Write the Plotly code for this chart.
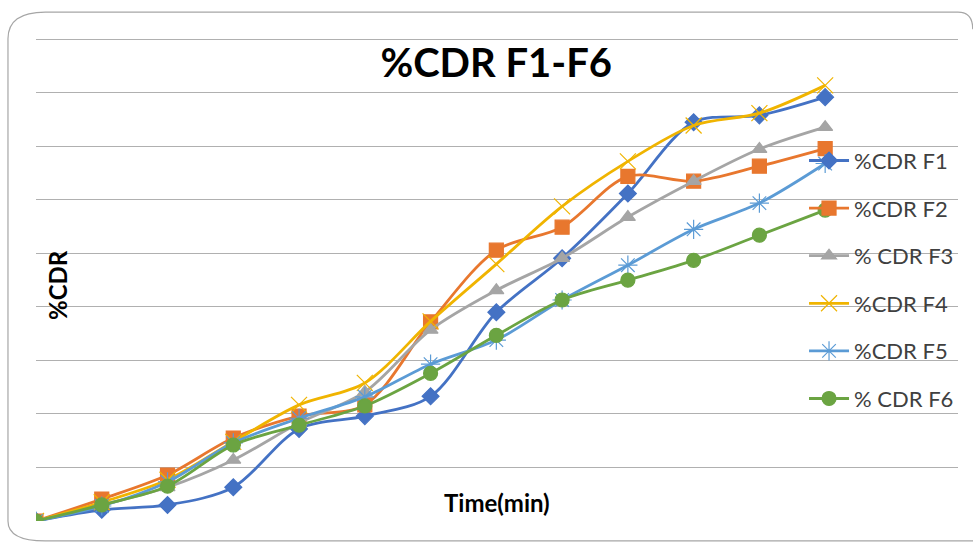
import plotly.graph_objects as go

time_points = list(range(13))
series_names = ["%CDR F1", "%CDR F2", "% CDR F3", "%CDR F4", "%CDR F5", "% CDR F6"]
f1 = [0, 2.1, 3.0, 6.3, 17.2, 19.6, 23.3, 39.0, 49.1, 61.2, 74.5, 75.8, 79.2]
f2 = [0, 4.1, 8.6, 15.5, 19.6, 21.7, 37.2, 50.6, 54.9, 64.4, 63.5, 66.3, 69.6]
f3 = [0, 3.0, 6.3, 11.4, 18.3, 24.1, 35.7, 43.1, 49.1, 56.8, 63.5, 69.5, 73.6]
f4 = [0, 3.5, 7.7, 14.8, 21.7, 25.8, 37.3, 48.0, 58.8, 67.2, 73.9, 76.2, 81.4]
f5 = [0, 2.8, 7.3, 14.6, 19.2, 23.2, 29.3, 33.8, 41.3, 47.8, 54.5, 59.4, 66.8]
f6 = [0, 3.0, 6.5, 14.2, 17.9, 21.5, 27.6, 34.7, 41.3, 45.0, 48.7, 53.4, 58.1]

colors = ["#4472C4", "#E8772E", "#A5A5A5", "#F0B400", "#5B9BD5", "#6BA442"]
symbols = ["diamond", "square", "triangle-up", "x-thin-open", "asterisk-open", "circle"]
sizes = [13, 14, 13, 16, 16, 14]
data = [f1, f2, f3, f4, f5, f6]

FONT = "Lato, Open Sans, sans-serif"

fig = go.Figure()
for i, (name, vals) in enumerate(zip(series_names, data)):
    fig.add_trace(go.Scatter(
        x=time_points, y=vals, name=name, mode="lines+markers",
        line=dict(color=colors[i], width=2.8, shape="spline", smoothing=0.9),
        marker=dict(symbol=symbols[i], size=sizes[i], color=colors[i],
                    line=dict(color=colors[i], width=1.2)),
        legendgroup=f"g{i}",
    ))

fig.update_layout(
    width=973, height=545,
    margin=dict(l=36, r=15, t=34, b=24),
    paper_bgcolor="white", plot_bgcolor="white",
    showlegend=True,
    legend=dict(x=0.833, y=0.783, xanchor="left", yanchor="top",
                font=dict(family=FONT, size=22, color="#404040"),
                tracegroupgap=16, bgcolor="rgba(0,0,0,0)", itemwidth=40),
    xaxis=dict(range=[0, 14.02], showgrid=False, zeroline=False, showticklabels=False,
               showline=False, ticks=""),
    yaxis=dict(range=[0, 91], dtick=10, showgrid=True, gridcolor="#B0B0B0", gridwidth=1.3,
               zeroline=False, showticklabels=False, showline=False, ticks=""),
    title=dict(text="<b>%CDR F1-F6</b>", x=0.51, xanchor="center", y=0.885, yanchor="middle",
               font=dict(family=FONT, size=40, color="black")),
    annotations=[
        dict(text="<b>Time(min)</b>", xref="paper", yref="paper", x=0.5, y=0.0376,
             xanchor="center", yanchor="middle", showarrow=False,
             font=dict(family=FONT, size=24, color="black")),
        dict(text="<b>%CDR</b>", xref="paper", yref="paper", x=0.024, y=0.485,
             xanchor="center", yanchor="middle", showarrow=False, textangle=-90,
             font=dict(family=FONT, size=24, color="black")),
    ],
    shapes=[dict(type="path", xref="paper", yref="paper",
                 path="M 0.01 1.045 L 1.0 1.045 Q 1.016 1.045 1.016 1.01 "
                      "M 0.01 1.045 Q -0.0304 1.045 -0.0304 0.99 L -0.0304 0.0 "
                      "Q -0.0304 -0.041 0.01 -0.041 L 1.02 -0.041",
                 line=dict(color="#A6A6A6", width=1.2))],
)

fig.write_html("out.html")
